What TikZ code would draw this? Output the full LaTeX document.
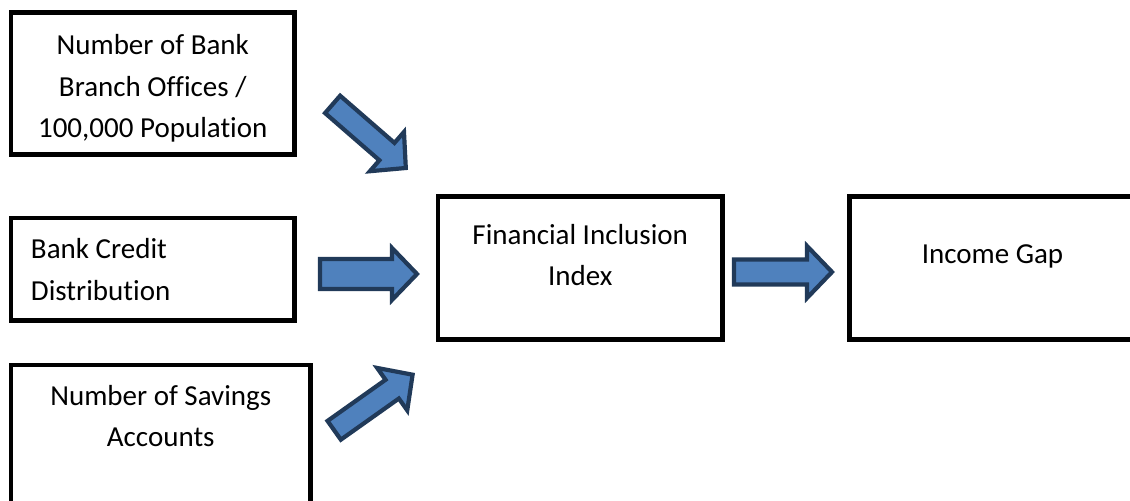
\documentclass[tikz,border=0pt]{standalone}
\usepackage{fontspec}
\setmainfont{Carlito}[Ligatures={NoCommon}]
\usepackage{tikz}
\usetikzlibrary{positioning, calc}

% block arrow: tail #1, tip #2, half width of the shaft #3
\newcommand{\blockarr}[3]{%
  \draw [block_arrow] ($(#1)!#3!90:(#2)$)
    -- ($(#2)!12.5pt!(#1)!#3!-90:(#1)$)
    -- ($(#2)!12.5pt!(#1)!13pt!-90:(#1)$)
    -- (#2)
    -- ($(#2)!12.5pt!(#1)!13pt!90:(#1)$)
    -- ($(#2)!12.5pt!(#1)!#3!90:(#1)$)
    -- ($(#1)!#3!-90:(#2)$) -- cycle;}

\definecolor{arrowfill}{HTML}{4F81BD}
\definecolor{arrowline}{HTML}{213A59}

\begin{document}
\begin{tikzpicture}[
        x=0.5pt, y=-0.5pt,
        % Define styles for the nodes
        box/.style={draw, line width=2.4pt, inner sep=0pt},
        lbl/.style={inner sep=0pt, align=center, font=\fontsize{14.5pt}{20.6pt}\selectfont},
        block_arrow/.style={fill=arrowfill, draw=arrowline, line width=2.1pt, line join=miter}
    ]
    \clip (0,0) rectangle (1130,501);

    % ==============================================
    % === INPUT BOXES (left column) ===
    % ==============================================
    \node (offices) [box, minimum width=141.75pt, minimum height=71pt] at (152.75,83.5) {};
    \node (offices_txt) [lbl, below=12.1pt of offices.north] {Number of Bank\\Branch Offices /\\100,000 Population};

    \node (credit) [box, minimum width=141.75pt, minimum height=51.25pt] at (152.75,269.25) {};
    \node (credit_txt) [lbl, align=left, below right=11.35pt and 11pt of credit.north west] {Bank Credit\\Distribution};

    \node (savings) [box, minimum width=149.75pt, minimum height=82.5pt] at (160.75,447.5) {};
    \node (savings_txt) [lbl, below=11pt of savings.north] {Number of Savings\\Accounts};

    % ==============================================
    % === INDEX AND OUTCOME ===
    % ==============================================
    \node (index) [box, minimum width=142.25pt, minimum height=71.5pt] at (580.25,268) {};
    \node (index_txt) [lbl, below=14.95pt of index.north] {Financial Inclusion\\Index};

    \node (gap) [box, minimum width=145.25pt, minimum height=71.5pt] at (994.75,268) {};
    \node (gap_txt) [lbl, anchor=base] at (992.5,263.7) {Income Gap};

    % Arrow ends
    \coordinate (a1_tail) at (332.6,104.4);
    \coordinate (a1_tip)  at (405.8,168);
    \coordinate (a2_tail) at (320,274);
    \coordinate (a2_tip)  at (417,274);
    \coordinate (a3_tail) at (334.2,430.3);
    \coordinate (a3_tip)  at (412.6,374.7);
    \coordinate (a4_tail) at (734,272);
    \coordinate (a4_tip)  at (832,272);

    \blockarr{a1_tail}{a1_tip}{5.75pt}
    \blockarr{a2_tail}{a2_tip}{7.5pt}
    \blockarr{a3_tail}{a3_tip}{5.75pt}
    \blockarr{a4_tail}{a4_tip}{6.25pt}

\end{tikzpicture}
\end{document}
